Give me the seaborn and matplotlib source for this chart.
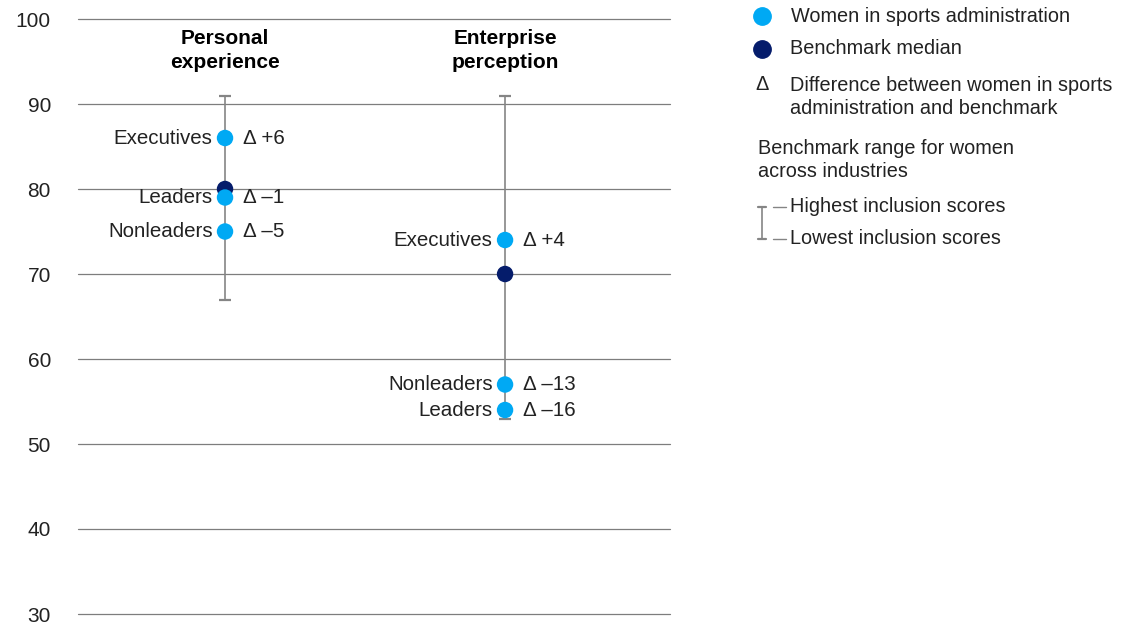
import matplotlib
matplotlib.use("Agg")
import matplotlib.pyplot as plt
import seaborn as sns
import pandas as pd
from matplotlib.lines import Line2D

# Data
panels = ["Personal\nexperience", "Enterprise\nperception"]
groups = ["Executives", "Leaders", "Nonleaders"]
personal_scores = [86, 79, 75]
enterprise_scores = [74, 54, 57]
benchmark_median = [80, 70]
benchmark_high = [91, 91]
benchmark_low = [67, 53]
y_ticks = [30, 40, 50, 60, 70, 80, 90, 100]

LIGHT = "#00A9F4"
NAVY = "#051C6B"
GRID = "#7d7d7d"
BAR = "#858585"
TEXT = "#222222"
FS = 14.3

sns.set_theme(style="white")
plt.rcParams["font.family"] = ["Liberation Sans", "DejaVu Sans"]

rows = []
for pi, scores in enumerate([personal_scores, enterprise_scores]):
    for g, v in zip(groups, scores):
        rows.append({"panel": pi, "group": g, "score": v, "kind": "women",
                     "delta": v - benchmark_median[pi]})
df = pd.DataFrame(rows)
bench = pd.DataFrame({"panel": [0, 1], "score": benchmark_median})

fig = plt.figure(figsize=(11.24, 6.25), dpi=100)
ax = fig.add_axes([78 / 1124, 1 - 614 / 625, 592 / 1124, 595 / 625])
ax.set_xlim(-0.525, 1.589)
ax.set_ylim(30, 100)

# Gridlines
for t in y_ticks:
    ax.axhline(t, color=GRID, lw=0.9, zorder=0, clip_on=False)
ax.set_yticks(y_ticks)
ax.set_xticks([])
ax.tick_params(axis="y", length=0, pad=19.5, labelsize=15, labelcolor=TEXT)
for s in ax.spines.values():
    s.set_visible(False)

# Benchmark range
for pi in range(2):
    ax.errorbar([pi], [benchmark_median[pi]],
                yerr=[[benchmark_median[pi] - benchmark_low[pi]],
                      [benchmark_high[pi] - benchmark_median[pi]]],
                fmt="none", ecolor=BAR, elinewidth=1.2, capsize=4.5,
                capthick=1.6, zorder=2)

sns.scatterplot(data=bench, x="panel", y="score", color=NAVY, s=140,
                edgecolor="none", zorder=3, ax=ax, legend=False)
sns.scatterplot(data=df, x="panel", y="score", color=LIGHT, s=140,
                edgecolor="none", zorder=4, ax=ax, legend=False)
ax.set_xlabel("")
ax.set_ylabel("")

# Point labels
for _, r in df.iterrows():
    ax.annotate(r["group"], (r["panel"], r["score"]), xytext=(-9, 0),
                textcoords="offset points", ha="right", va="center",
                fontsize=FS + 0.5, color=TEXT)
    d = int(r["delta"])
    ax.annotate(f"Δ {'+' if d > 0 else '–'}{abs(d)}", (r["panel"], r["score"]),
                xytext=(13, 0), textcoords="offset points", ha="left",
                va="center", fontsize=FS + 0.5, color=TEXT)

# Column titles
for pi, title in enumerate(panels):
    ax.text(pi, 96.3, title, ha="center", va="center", fontsize=15,
            fontweight="bold", color="black", linespacing=1.32)

# Key on the right, laid out in pixel space
key = fig.add_axes([0, 0, 1, 1])
key.set_xlim(0, 1124)
key.set_ylim(625, 0)
key.axis("off")

key.plot([762], [16], "o", color=LIGHT, ms=12.5)
key.text(791, 16, "Women in sports administration", va="center", fontsize=FS, color=TEXT)
key.plot([762], [49], "o", color=NAVY, ms=12.5)
key.text(790, 49, "Benchmark median", va="center", fontsize=FS, color=TEXT)
key.text(762, 85, "Δ", ha="center", va="center", fontsize=FS, color=TEXT)
key.text(790, 97, "Difference between women in sports\nadministration and benchmark",
         va="center", fontsize=FS, color=TEXT, linespacing=1.3)
key.text(758, 160, "Benchmark range for women\nacross industries",
         va="center", fontsize=FS, color=TEXT, linespacing=1.25)

key.add_line(Line2D([762, 762], [207, 239], color=BAR, lw=1.2))
key.add_line(Line2D([758, 766], [207, 207], color=BAR, lw=1.6))
key.add_line(Line2D([758, 766], [239, 239], color=BAR, lw=1.6))
key.add_line(Line2D([773, 786], [207, 207], color=BAR, lw=1))
key.add_line(Line2D([773, 786], [239, 239], color=BAR, lw=1))
key.text(790, 207, "Highest inclusion scores", va="center", fontsize=FS, color=TEXT)
key.text(790, 239, "Lowest inclusion scores", va="center", fontsize=FS, color=TEXT)

fig.savefig("out.png", dpi=100, facecolor="white")
